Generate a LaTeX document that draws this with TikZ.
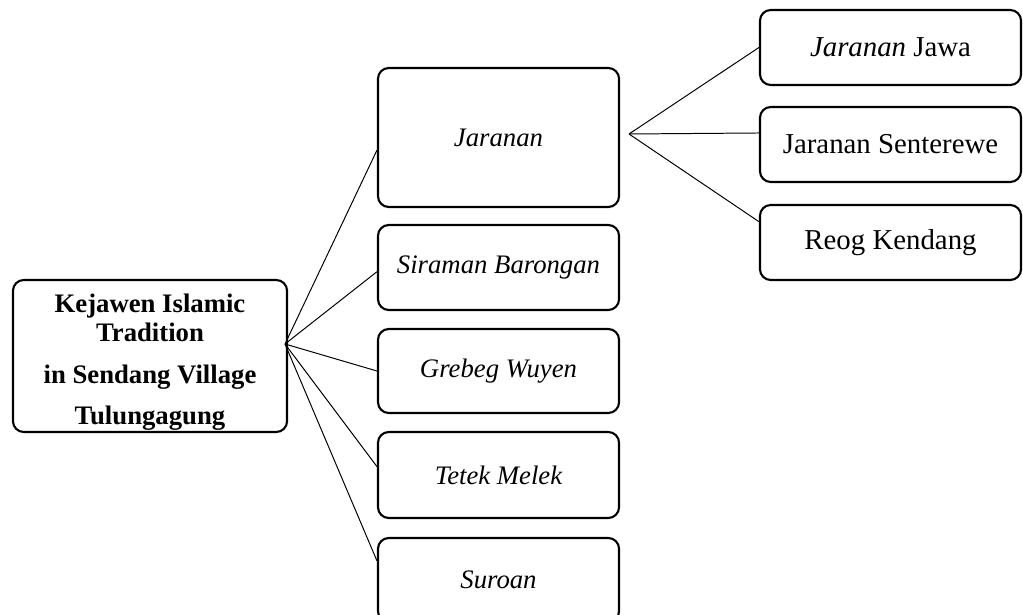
\documentclass[tikz,border=0pt]{standalone}
\usepackage{fontspec}
\setmainfont{Liberation Serif}
\usepackage{tikz}
\usetikzlibrary{calc}

\begin{document}
\begin{tikzpicture}[x=0.025cm, y=-0.025cm,
    box/.style={draw, line width=1.5pt, rounded corners=0.27cm, align=center,
      inner sep=0pt, font=\fontsize{20.5}{22}\selectfont},
    midbox/.style={box, minimum width=6.025cm, font=\fontsize{19}{21}\selectfont\itshape},
    subbox/.style={box, minimum width=6.525cm, minimum height=1.875cm},
    link/.style={line width=0.7pt}]
  \useasboundingbox (0,0) rectangle (1023,615);
  % root
  \node[box, minimum width=6.85cm, minimum height=3.8cm, font=\fontsize{19}{20.5}\selectfont\bfseries]
    (root) at (150,356) {\rule{0pt}{22pt}Kejawen Islamic\\Tradition\\[9.5pt]in Sendang Village\\[8pt]Tulungagung};
  % traditions
  \node[midbox, minimum height=3.475cm] (jaranan) at (498.5,137.5) {Jaranan};
  \node[midbox, minimum height=2.125cm] (siraman) at (498.5,267.5) {Siraman Barongan};
  \node[midbox, minimum height=2.1cm]   (grebeg)  at (498.5,371)   {Grebeg Wuyen};
  \node[midbox, minimum height=2.15cm]  (tetek)   at (498.5,475)   {Tetek Melek};
  \node[midbox, minimum height=2.1cm]   (suroan)  at (498.5,580)   {Suroan};
  % kinds of jaranan
  \node[subbox] (jawa)      at (890.5,47.5)  {\textit{Jaranan} Jawa};
  \node[subbox] (senterewe) at (890.5,144.5) {Jaranan Senterewe};
  \node[subbox] (reog)      at (890.5,242.5) {Reog Kendang};
  % branches
  \coordinate (hub) at (285,344);
  \coordinate (fork) at (629,134);
  \draw[link] (hub) -- (jaranan.-174);
  \draw[link] (hub) -- (siraman.-178);
  \draw[link] (hub) -- (grebeg.west);
  \draw[link] (hub) -- (tetek.176);
  \draw[link] (hub) -- (suroan.171);
  \draw[link] (fork) -- (jawa.west);
  \draw[link] (fork) -- (senterewe.175);
  \draw[link] (fork) -- (reog.171.5);
\end{tikzpicture}
\end{document}
